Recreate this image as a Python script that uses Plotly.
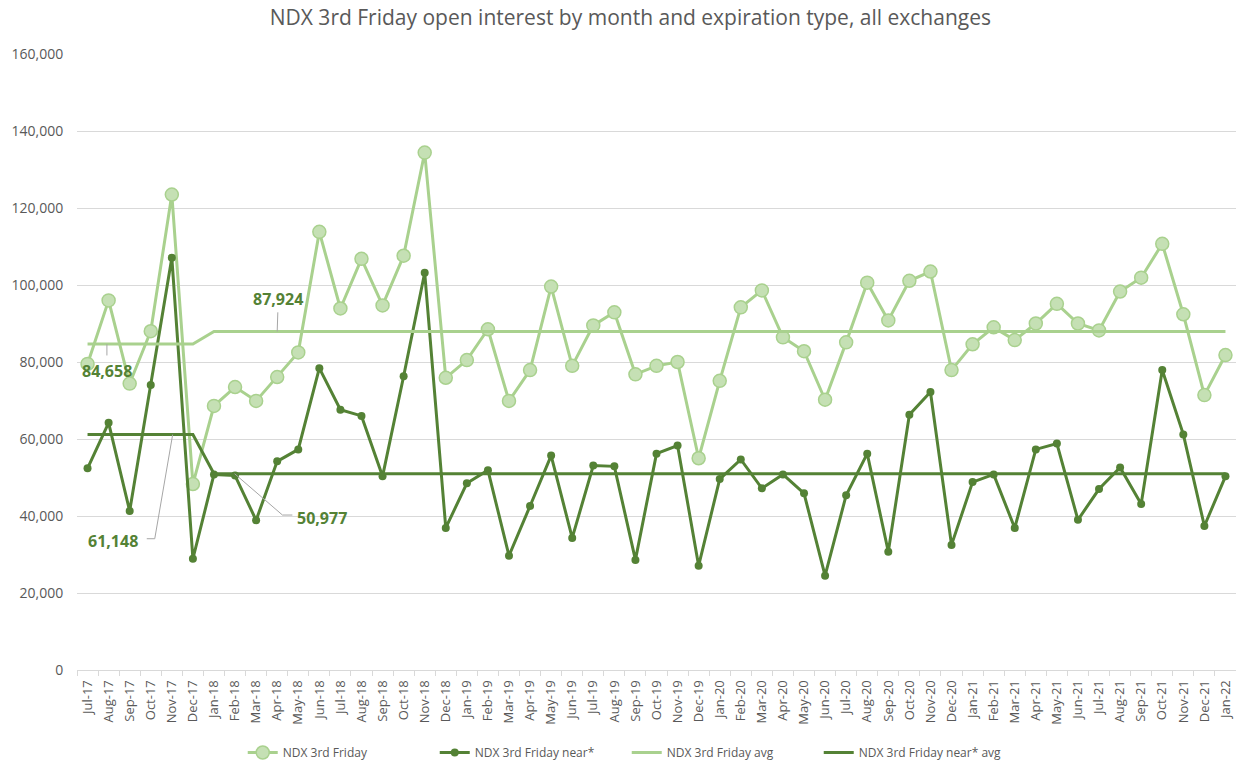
import plotly.graph_objects as go

months = ["Jul-17","Aug-17","Sep-17","Oct-17","Nov-17","Dec-17",
          "Jan-18","Feb-18","Mar-18","Apr-18","May-18","Jun-18","Jul-18","Aug-18","Sep-18","Oct-18","Nov-18","Dec-18",
          "Jan-19","Feb-19","Mar-19","Apr-19","May-19","Jun-19","Jul-19","Aug-19","Sep-19","Oct-19","Nov-19","Dec-19",
          "Jan-20","Feb-20","Mar-20","Apr-20","May-20","Jun-20","Jul-20","Aug-20","Sep-20","Oct-20","Nov-20","Dec-20",
          "Jan-21","Feb-21","Mar-21","Apr-21","May-21","Jun-21","Jul-21","Aug-21","Sep-21","Oct-21","Nov-21","Dec-21",
          "Jan-22"]

ndx_3rd_friday = [79500, 96000, 74400, 88000, 123500, 48300,
                  68600, 73500, 69900, 76100, 82500, 113800, 93900, 106800, 94700, 107600, 134400, 75900,
                  80500, 88500, 69900, 77900, 99600, 79000, 89500, 92900, 76800, 79000, 80000, 55000,
                  75100, 94200, 98600, 86400, 82800, 70200, 85100, 100600, 90800, 101100, 103500, 77900,
                  84600, 89000, 85700, 90000, 95100, 90000, 88200, 98300, 101900, 110700, 92400, 71400,
                  81800]

ndx_3rd_friday_near = [52400, 64200, 41300, 74000, 107100, 28900,
                       50800, 50500, 38900, 54200, 57300, 78400, 67600, 66000, 50300, 76300, 103200, 36900,
                       48500, 51900, 29700, 42600, 55700, 34300, 53100, 52900, 28600, 56200, 58300, 27100,
                       49600, 54700, 47200, 50800, 45900, 24500, 45400, 56200, 30700, 66300, 72200, 32500,
                       48800, 50800, 36900, 57300, 58800, 39000, 47000, 52600, 43100, 77900, 61200, 37400,
                       50300]

avg_2017 = 84658
avg_after = 87924
near_avg_2017 = 61148
near_avg_after = 50977

ndx_avg = [avg_2017 if i < 6 else avg_after for i in range(len(months))]
ndx_near_avg = [near_avg_2017 if i < 6 else near_avg_after for i in range(len(months))]

y_ticks = [0, 20000, 40000, 60000, 80000, 100000, 120000, 140000, 160000]

LIGHT = "#A9D18E"
LIGHT_FILL = "#C5E0B4"
DARK = "#548235"
TEXT = "#595959"
GRID = "#D9D9D9"
FONT = "'Open Sans', 'Noto Sans', sans-serif"

x = list(range(len(months)))

fig = go.Figure()
fig.add_trace(go.Scatter(x=x, y=ndx_3rd_friday, name="NDX 3rd Friday", mode="lines+markers",
                         line=dict(color=LIGHT, width=3), cliponaxis=False,
                         marker=dict(size=13, color=LIGHT_FILL, line=dict(color=LIGHT, width=1.5))))
fig.add_trace(go.Scatter(x=x, y=ndx_3rd_friday_near, name="NDX 3rd Friday near*", mode="lines+markers",
                         line=dict(color=DARK, width=3), cliponaxis=False,
                         marker=dict(size=8, color=DARK)))
fig.add_trace(go.Scatter(x=x, y=ndx_avg, name="NDX 3rd Friday avg", mode="lines",
                         line=dict(color=LIGHT, width=3)))
fig.add_trace(go.Scatter(x=x, y=ndx_near_avg, name="NDX 3rd Friday near* avg", mode="lines",
                         line=dict(color=DARK, width=3)))

# leader lines (label connectors)
leader = dict(color="#A6A6A6", width=1)
fig.add_shape(type="path", xref="x", yref="y", line=leader,
              path="M 9.0 %d L 9.03 92900" % avg_after)
fig.add_shape(type="path", xref="x", yref="y", line=leader,
              path="M 0.92 %d L 0.92 81700" % avg_2017)
fig.add_shape(type="path", xref="x", yref="y", line=leader,
              path="M 4.04 %d L 3.19 34100 L 2.81 34100" % near_avg_2017)
fig.add_shape(type="path", xref="x", yref="y", line=leader,
              path="M 6.98 %d L 9.25 40250 L 9.72 40250" % near_avg_after)

lab_font = dict(family=FONT, size=16, color=DARK)
fig.add_annotation(x=9.05, y=96300, text="<b>%s</b>" % f"{avg_after:,}", showarrow=False,
                   font=lab_font, xanchor="center", yanchor="middle")
fig.add_annotation(x=0.92, y=77700, text="<b>%s</b>" % f"{avg_2017:,}", showarrow=False,
                   font=lab_font, xanchor="center", yanchor="middle")
fig.add_annotation(x=2.5, y=33600, text="<b>%s</b>" % f"{near_avg_2017:,}", showarrow=False,
                   font=lab_font, xanchor="right", yanchor="middle")
fig.add_annotation(x=9.85, y=39600, text="<b>%s</b>" % f"{near_avg_after:,}", showarrow=False,
                   font=lab_font, xanchor="left", yanchor="middle")

fig.update_layout(
    width=1236, height=767,
    paper_bgcolor="white", plot_bgcolor="white",
    margin=dict(l=77, r=0, t=54, b=89),
    font=dict(family=FONT, size=12, color=TEXT),
    title=dict(text="NDX 3rd Friday open interest by month and expiration type, all exchanges",
               x=0.51, xanchor="center", y=0.977, yanchor="middle",
               font=dict(family=FONT, size=21, color=TEXT)),
    showlegend=True,
    legend=dict(orientation="h", x=0.143, xanchor="left", y=-0.134, yanchor="middle",
                entrywidth=147, entrywidthmode="pixels",
                font=dict(family=FONT, size=12, color=TEXT), bgcolor="rgba(0,0,0,0)"),
    xaxis=dict(range=[-0.5, len(months) - 0.5], tickmode="array", tickvals=x, ticktext=months,
               tickangle=-90, showgrid=False, zeroline=False, showline=True, linecolor=GRID, linewidth=1,
               ticks="outside", ticklen=4, tickcolor="rgba(0,0,0,0)",
               tickfont=dict(family=FONT, size=13, color=TEXT),
               minor=dict(tickmode="array", tickvals=[i - 0.5 for i in range(len(months) + 1)],
                          ticks="outside", ticklen=5, tickcolor=GRID, showgrid=False)),
    yaxis=dict(range=[0, 160000], tickmode="array", tickvals=y_ticks,
               ticktext=[f"{v:,}" for v in y_ticks], showgrid=True, gridcolor=GRID, gridwidth=1,
               zeroline=False, showline=False, ticks="outside", ticklen=10, tickcolor="rgba(0,0,0,0)",
               tickfont=dict(family=FONT, size=14, color=TEXT)),
)

fig.write_html("out.html", config={"displayModeBar": False},
               post_script="document.body.style.margin='0';document.body.style.overflow='hidden';")
